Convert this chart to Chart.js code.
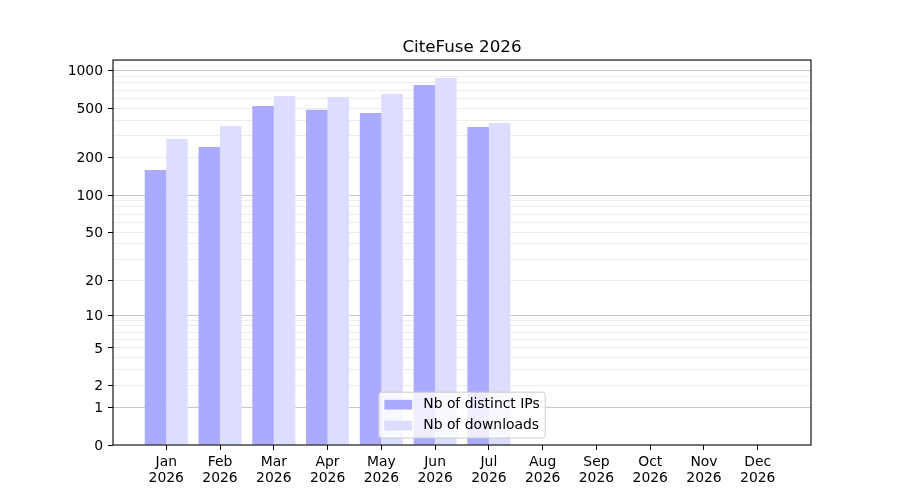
<!DOCTYPE html>
<html>
<head>
<meta charset="utf-8">
<title>CiteFuse 2026</title>
<script src="https://cdn.jsdelivr.net/npm/chart.js@4.4.1/dist/chart.umd.min.js"></script>
<style>
	html, body { margin: 0; padding: 0; background: #ffffff; }
	#wrap { width: 900px; height: 500px; }
</style>
</head>
<body>
<div id="wrap"><canvas id="citefuse-chart"></canvas></div>
<script>
const MONTHS = ['Jan', 'Feb', 'Mar', 'Apr', 'May', 'Jun', 'Jul', 'Aug', 'Sep', 'Oct', 'Nov', 'Dec'];
const YEAR = '2026';
const DISTINCT_IPS = [159, 244, 521, 487, 458, 768, 353, 0, 0, 0, 0, 0];
const DOWNLOADS = [283, 360, 627, 615, 650, 874, 380, 0, 0, 0, 0, 0];

// Labelled y ticks, power-of-ten lines and the light minor lines.
const Y_LABELLED = [0, 1, 2, 5, 10, 20, 50, 100, 200, 500, 1000];
const Y_MAJOR = [1, 10, 100, 1000];
const Y_MINOR = [2, 3, 4, 5, 6, 7, 8, 9, 20, 30, 40, 50, 60, 70, 80, 90, 200, 300, 400, 500, 600, 700, 800, 900];

(function() {
	'use strict';

	const FONT = 'DejaVu Sans';
	const FS = 13.9;

	// log10(1 + v): the symlog-like axis of the picture.
	const t = function(v) {
		return Math.log10(1 + Math.max(v, 0));
	};

	class Log1pScale extends Chart.LinearScale {
		configure() {
			super.configure();
			this._tStart = t(this.min);
			this._tRange = t(this.max) - this._tStart;
		}
		buildTicks() {
			return [];
		}
		getPixelForValue(value) {
			if (value === null || value === undefined || isNaN(value)) {
				return NaN;
			}
			return this.getPixelForDecimal((t(value) - this._tStart) / this._tRange);
		}
		getValueForPixel(pixel) {
			return Math.pow(10, this._tStart + this.getDecimalForPixel(pixel) * this._tRange) - 1;
		}
	}
	Log1pScale.id = 'log1p';
	Chart.register(Log1pScale);

	Chart.defaults.font.family = FONT;
	Chart.defaults.font.size = FS;
	Chart.defaults.color = '#000000';

	const yTicks = Array.from(new Set([0].concat(Y_MAJOR, Y_MINOR))).sort(function(a, b) { return a - b; });

	// Full frame round the axes (matplotlib spines).
	const frame = {
		id: 'frame',
		afterDraw: function(chart) {
			const a = chart.chartArea;
			const ctx = chart.ctx;
			ctx.save();
			ctx.strokeStyle = '#000000';
			ctx.lineWidth = 1.1;
			ctx.strokeRect(a.left, a.top, a.right - a.left, a.bottom - a.top);
			ctx.restore();
		}
	};

	// Matplotlib style legend, lower centre inside the axes.
	const legendBox = {
		id: 'legendBox',
		afterDraw: function(chart) {
			const a = chart.chartArea;
			const ctx = chart.ctx;
			const items = chart.data.datasets;
			ctx.save();
			ctx.font = FS + 'px "' + FONT + '"';
			const textW = Math.max.apply(null, items.map(function(d) { return ctx.measureText(d.label).width; }));
			const pad = 0.4 * FS;
			const handle = 2 * FS;
			const gap = 0.8 * FS;
			const rowGap = 0.5 * FS;
			const w = pad * 2 + handle + gap + textW;
			const h = pad * 2 + items.length * FS + (items.length - 1) * rowGap;
			const x = (a.left + a.right) / 2 - w / 2;
			const y = a.bottom - 0.5 * FS - h;

			ctx.beginPath();
			ctx.roundRect(x, y, w, h, 3);
			ctx.fillStyle = 'rgba(255, 255, 255, 0.8)';
			ctx.fill();
			ctx.strokeStyle = '#cccccc';
			ctx.lineWidth = 1;
			ctx.stroke();

			items.forEach(function(d, i) {
				const cy = y + pad + i * (FS + rowGap) + FS / 2;
				ctx.fillStyle = d.backgroundColor;
				ctx.fillRect(x + pad, cy - 0.35 * FS, handle, 0.7 * FS);
				ctx.fillStyle = '#000000';
				ctx.textBaseline = 'middle';
				ctx.fillText(d.label, x + pad + handle + gap, cy);
			});
			ctx.restore();
		}
	};

	const ctx = document.getElementById('citefuse-chart').getContext('2d');

	new Chart(ctx, {
		type: 'bar',
		data: {
			labels: MONTHS.map(function(m, i) { return i; }),
			datasets: [
				{
					label: 'Nb of distinct IPs',
					data: DISTINCT_IPS,
					backgroundColor: '#aaaaff',
					borderWidth: 0,
					categoryPercentage: 0.8,
					barPercentage: 1.0
				},
				{
					label: 'Nb of downloads',
					data: DOWNLOADS,
					backgroundColor: '#ddddff',
					borderWidth: 0,
					categoryPercentage: 0.8,
					barPercentage: 1.0
				}
			]
		},
		options: {
			responsive: true,
			maintainAspectRatio: false,
			animation: false,
			layout: {
				padding: { left: 0, right: 89, top: 0, bottom: 0 }
			},
			plugins: {
				legend: { display: false },
				tooltip: { enabled: false },
				title: {
					display: true,
					text: 'CiteFuse ' + YEAR,
					fullSize: false,
					color: '#000000',
					font: { size: 16.7, weight: 'normal', lineHeight: 1.2 },
					padding: { top: 38, bottom: 2 }
				}
			},
			scales: {
				x: {
					type: 'linear',
					min: -0.99,
					max: 11.99,
					bounds: 'data',
					offset: false,
					afterBuildTicks: function(scale) {
						scale.ticks = MONTHS.map(function(m, i) { return { value: i }; });
					},
					afterFit: function(scale) {
						scale.height = 55;
					},
					border: { display: false },
					grid: {
						offset: false,
						drawOnChartArea: false,
						drawTicks: true,
						tickLength: 5,
						color: '#000000',
						tickColor: '#000000',
						lineWidth: 1
					},
					ticks: {
						autoSkip: false,
						maxRotation: 0,
						padding: 4,
						color: '#000000',
						font: { size: FS, lineHeight: 1.15 },
						callback: function(value) {
							return [MONTHS[value], YEAR];
						}
					}
				},
				y: {
					type: 'log1p',
					min: 0,
					max: 1220,
					z: 1,
					afterBuildTicks: function(scale) {
						scale.ticks = yTicks.map(function(v) { return { value: v }; });
					},
					afterFit: function(scale) {
						scale.width = 113;
					},
					border: { display: false },
					grid: {
						drawTicks: true,
						tickLength: 5,
						lineWidth: 1,
						color: function(c) {
							const v = c.tick ? c.tick.value : null;
							if (v === 0) {
								return 'rgba(0, 0, 0, 0)';
							}
							return Y_MAJOR.indexOf(v) >= 0 ? 'rgba(0, 0, 0, 0.22)' : 'rgba(0, 0, 0, 0.07)';
						},
						tickColor: function(c) {
							const v = c.tick ? c.tick.value : null;
							return Y_LABELLED.indexOf(v) >= 0 ? '#000000' : 'rgba(0, 0, 0, 0)';
						}
					},
					ticks: {
						autoSkip: false,
						padding: 5,
						labelOffset: 1,
						color: '#000000',
						font: { size: FS },
						callback: function(value) {
							return Y_LABELLED.indexOf(value) >= 0 ? String(value) : '';
						}
					}
				}
			}
		},
		plugins: [frame, legendBox]
	});
})();
</script>
</body>
</html>
